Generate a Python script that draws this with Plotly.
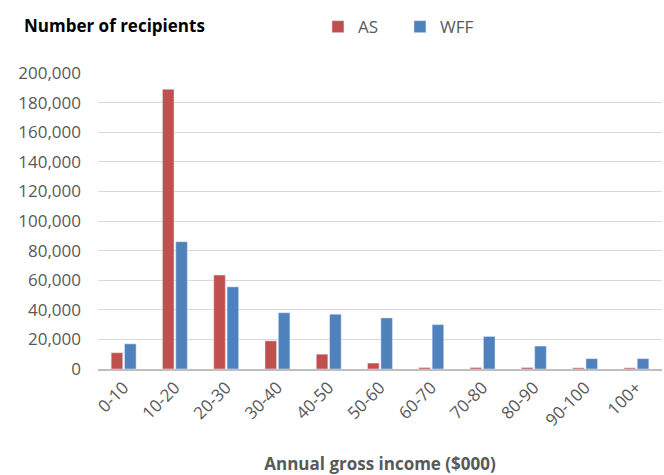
import plotly.graph_objects as go

# Income bands ($000) and recipients per band
bands = ["0-10", "10-20", "20-30", "30-40", "40-50", "50-60",
         "60-70", "70-80", "80-90", "90-100", "100+"]
as_recipients = [11000, 189000, 63500, 19000, 10000, 4000, 1000, 1000, 1000, 800, 800]
wff_recipients = [17000, 86000, 55500, 38000, 37000, 34500, 30000, 22000, 15500, 7000, 7000]
y_ticks = [0, 20000, 40000, 60000, 80000, 100000, 120000, 140000, 160000, 180000, 200000]

FONT = "Open Sans"
GREY = "#595959"

fig = go.Figure()
fig.add_trace(go.Bar(name="AS", x=bands, y=as_recipients, marker_color="#C0504D"))
fig.add_trace(go.Bar(name="WFF", x=bands, y=wff_recipients, marker_color="#4F81BD"))

fig.update_layout(
    width=664, height=475,
    margin=dict(l=98, r=2, t=73, b=106),
    paper_bgcolor="white", plot_bgcolor="white",
    barmode="group", bargap=0.48, bargroupgap=0.13,
    font=dict(family=FONT, size=17, color=GREY),
    legend=dict(orientation="h", x=0.39, y=1.155, xanchor="left", yanchor="middle",
                font=dict(family=FONT, size=17, color=GREY), itemwidth=30,
                entrywidth=37, entrywidthmode="pixels",
                traceorder="normal", bgcolor="rgba(0,0,0,0)"),
    xaxis=dict(tickangle=-45, showgrid=False, showline=True, linecolor="#BFBFBF",
               linewidth=2, ticks="", tickfont=dict(family=FONT, size=17, color=GREY),
               title=dict(text="<b>Annual gross income ($000)</b>", standoff=30,
                          font=dict(family=FONT, size=17, color=GREY))),
    yaxis=dict(range=[0, 200000], tickvals=y_ticks, tickformat=",d",
               showgrid=True, gridcolor="#D9D9D9", gridwidth=1, zeroline=False,
               ticks="", ticklabelstandoff=16,
               tickfont=dict(family=FONT, size=17, color=GREY)),
    annotations=[dict(text="<b>Number of recipients</b>", xref="paper", yref="paper",
                      x=-0.135, y=1.16, xanchor="left", yanchor="middle", showarrow=False,
                      font=dict(family=FONT, size=17, color="black"))],
)

fig.write_html("out.html")
